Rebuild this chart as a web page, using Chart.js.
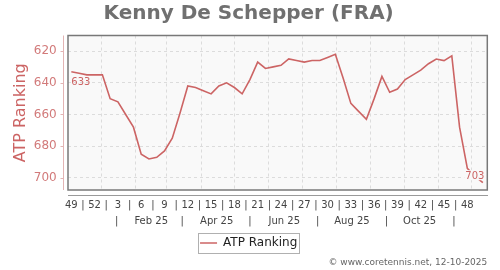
<!DOCTYPE html>
<html>
<head>
<meta charset="utf-8">
<script src="https://cdn.jsdelivr.net/npm/chart.js@4"></script>
<style>
  html, body { margin: 0; padding: 0; background: #fff; }
  #wrap { width: 500px; height: 270px; }
</style>
</head>
<body>
<div id="wrap"><canvas id="grafico" width="500" height="270"></canvas></div>
<script>
// ---------------------------------------------------------
// DATOS
// ---------------------------------------------------------
const playerName = 'Kenny De Schepper (FRA)';
const seriesName = 'ATP Ranking';
const footerText = '© www.coretennis.net, 12-10-2025';

// ranking semanal: semana 49 de 2024 -> semana 50 de 2025
const ranks = [633, 634, 635, 635, 635, 650, 652, 660, 668, 685,
               688, 687, 683, 675, 659, 642, 643, 645, 647, 642,
               640, 643, 647, 638, 627, 631, 630, 629, 625, 626,
               627, 626, 626, 624, 622, 637, 653, 658, 663, 650,
               636, 646, 644, 638, 635, 632, 628, 625, 626, 623,
               668, 694, 699, 703];
const weekLabels = ['49', '52', '3', '6', '9', '12', '15', '18', '21', '24', '27', '30', '33', '36', '39', '42', '45', '48'];
const monthLabels = ['|', 'Feb 25', '|', 'Apr 25', '|', 'Jun 25', '|', 'Aug 25', '|', 'Oct 25', '|'];
const yTicks = [620, 640, 660, 680, 700];

// días desde el 1 de enero de 2025
const dia = (y, m, d) => (Date.UTC(y, m - 1, d) - Date.UTC(2025, 0, 1)) / 86400000;
const firstWeek = dia(2024, 12, 5);   // centro de la semana 49
const xMin = dia(2024, 12, 2);
const xMax = dia(2025, 12, 15);

const puntos = ranks.map((r, i) => ({ x: firstWeek + 7 * i, y: r }));

const colorLinea = '#cc6464';
const fondoPlot = '#f9f9f9';

Chart.defaults.font.family = "'DejaVu Sans', sans-serif";

// ---------------------------------------------------------
// DECORACIÓN: fondo, marco, eje Y rosado, etiquetas y caja de leyenda
// ---------------------------------------------------------
const decor = {
    id: 'decor',
    beforeDraw(chart) {
        const { ctx, chartArea: a } = chart;
        ctx.save();
        ctx.fillStyle = fondoPlot;
        ctx.fillRect(a.left, a.top, a.right - a.left, a.bottom - a.top);
        ctx.restore();
    },
    beforeDatasetsDraw(chart) {
        const { ctx, chartArea: a } = chart;
        ctx.save();
        ctx.strokeStyle = '#787878';
        ctx.lineWidth = 1.5;
        ctx.strokeRect(a.left, a.top, a.right - a.left, a.bottom - a.top);
        ctx.restore();
    },
    afterDatasetsDraw(chart) {
        const { ctx } = chart;
        const pts = chart.getDatasetMeta(0).data;
        const p0 = pts[0], pN = pts[pts.length - 1];
        ctx.save();
        ctx.font = "10px 'DejaVu Sans'";
        ctx.textBaseline = 'alphabetic';

        // etiqueta primer punto
        ctx.textAlign = 'left';
        ctx.fillStyle = colorLinea;
        ctx.fillText(String(ranks[0]), p0.x, p0.y + 13);

        // etiqueta último punto (tapa la línea)
        const txt = String(ranks[ranks.length - 1]);
        const w = ctx.measureText(txt).width;
        const bx = pN.x + 1.5, by = pN.y - 3.5;
        ctx.fillStyle = fondoPlot;
        ctx.fillRect(bx - w - 1, by - 9, w + 2, 10);
        ctx.textAlign = 'right';
        ctx.fillStyle = colorLinea;
        ctx.fillText(txt, bx, by);
        ctx.restore();
    },
    afterDraw(chart) {
        const { ctx, chartArea: a, scales } = chart;
        ctx.save();
        // eje Y separado del marco
        const ax = Math.round(a.left - 5) + 0.5;
        ctx.strokeStyle = '#e3b4b4';
        ctx.lineWidth = 1;
        ctx.beginPath();
        ctx.moveTo(ax, a.top);
        ctx.lineTo(ax, a.bottom);
        yTicks.forEach(v => {
            const y = Math.round(scales.y.getPixelForValue(v)) + 0.5;
            ctx.moveTo(ax - 3, y);
            ctx.lineTo(ax, y);
        });
        ctx.stroke();

        // caja de la leyenda
        const hb = chart.legend.legendHitBoxes[0];
        if (hb) {
            const cy = hb.top + hb.height / 2;
            ctx.strokeStyle = '#b0b0b0';
            ctx.strokeRect(Math.round(hb.left - 2) + 0.5, Math.round(cy - 10) + 0.5,
                           Math.round(hb.width + 4), 20);
        }
        ctx.restore();
    }
};

// ---------------------------------------------------------
// GRÁFICO
// ---------------------------------------------------------
const tickTxt = (v, i, t) => t[i].txt;

new Chart(document.getElementById('grafico'), {
    type: 'line',
    data: {
        datasets: [{
            label: seriesName,
            data: puntos,
            borderColor: colorLinea,
            backgroundColor: colorLinea,
            borderWidth: 1.6,
            pointRadius: 0,
            tension: 0
        }]
    },
    options: {
        responsive: false,
        animation: false,
        layout: { padding: { left: 10, right: 12.7, top: 0, bottom: 2.2 } },
        plugins: {
            title: {
                display: true,
                text: playerName,
                color: '#707070',
                font: { size: 20, weight: 'bold' },
                padding: { top: 2, bottom: 9.5 }
            },
            subtitle: {
                display: true,
                text: footerText,
                position: 'bottom',
                align: 'end',
                color: '#666',
                font: { size: 9 },
                padding: 0
            },
            legend: {
                position: 'bottom',
                maxHeight: 30,
                labels: {
                    usePointStyle: true,
                    pointStyle: 'line',
                    pointStyleWidth: 17,
                    color: '#222',
                    font: { size: 12 },
                    padding: 10
                }
            },
            tooltip: { enabled: false }
        },
        scales: {
            x: {
                type: 'linear',
                min: xMin, max: xMax,
                afterBuildTicks: s => {
                    s.ticks = [];
                    for (let m = 1; m <= 12; m++) s.ticks.push({ value: dia(2025, m, 1) });
                },
                afterFit: s => { s.height = 5; },
                ticks: { display: false },
                grid: { color: '#dcdcdc', drawTicks: false },
                border: { display: false, dash: [3, 3] }
            },
            xWeeks: {
                type: 'linear',
                position: 'bottom',
                min: xMin, max: xMax,
                afterBuildTicks: s => {
                    s.ticks = [];
                    weekLabels.forEach((lab, k) => {
                        s.ticks.push({ value: firstWeek + 21 * k, txt: lab });
                        if (k < weekLabels.length - 1) s.ticks.push({ value: firstWeek + 21 * k + 10.5, txt: '|' });
                    });
                },
                afterFit: s => { s.height = 18; },
                ticks: { callback: tickTxt, autoSkip: false, maxRotation: 0, padding: 4.5, color: '#444', font: { size: 10 } },
                grid: { drawOnChartArea: false, drawTicks: false },
                border: { display: true, color: '#9a9a9a', width: 1 }
            },
            xMonths: {
                type: 'linear',
                position: 'bottom',
                min: xMin, max: xMax,
                afterBuildTicks: s => {
                    s.ticks = monthLabels.map((lab, k) => ({ value: dia(2025, k + 1, 15), txt: lab }));
                },
                afterFit: s => { s.height = 14; },
                ticks: { callback: tickTxt, autoSkip: false, maxRotation: 0, padding: 2.5, color: '#444', font: { size: 10 } },
                grid: { display: false, drawTicks: false },
                border: { display: false }
            },
            y: {
                reverse: true,
                min: 610.2, max: 707.6,
                afterBuildTicks: s => { s.ticks = yTicks.map(v => ({ value: v })); },
                afterFit: s => { s.width = 58; },
                ticks: { color: '#d27a7a', font: { size: 12 }, padding: 11.3 },
                grid: { color: '#dcdcdc', drawTicks: false },
                border: { display: false, dash: [3, 3] },
                title: {
                    display: true,
                    text: seriesName,
                    color: '#cc6464',
                    font: { size: 16 },
                    padding: { top: 1, bottom: 0 }
                }
            }
        }
    },
    plugins: [decor]
});
</script>
</body>
</html>
